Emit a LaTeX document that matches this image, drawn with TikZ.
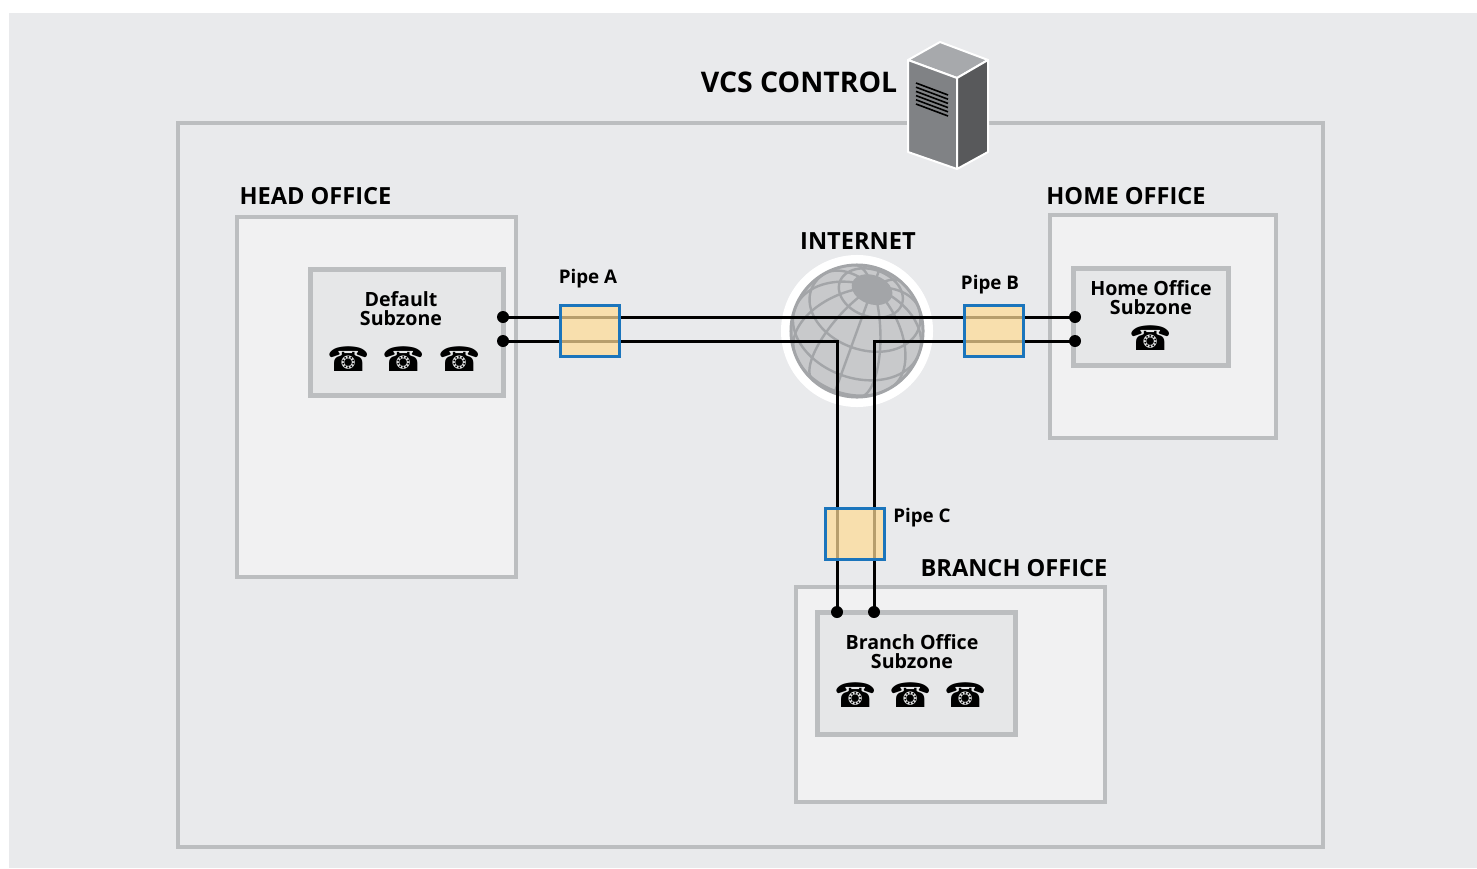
\documentclass[tikz,border=0pt]{standalone}
\usepackage{fontspec}
\setmainfont{Open Sans}
\newfontfamily\symfont{DejaVu Sans}
\usetikzlibrary{shapes}
\usetikzlibrary{positioning}

\definecolor{bggray}{RGB}{233,234,236}
\definecolor{framegray}{RGB}{188,190,192}
\definecolor{officefill}{RGB}{241,241,242}
\definecolor{zonefill}{RGB}{230,231,232}
\definecolor{pipefill}{RGB}{254,220,150}
\definecolor{pipeblue}{RGB}{27,117,188}
\definecolor{globefill}{RGB}{200,201,203}
\definecolor{globeline}{RGB}{163,165,168}
\definecolor{srvtop}{RGB}{167,169,172}
\definecolor{srvleft}{RGB}{128,130,133}
\definecolor{srvright}{RGB}{88,89,91}

\newcommand{\deskphone}{{\symfont\char"260E}}

\begin{document}
\begin{tikzpicture}[x=0.5pt,y=-0.5pt]
	\tikzstyle{box}=[rectangle,draw=framegray,line width=2pt,inner sep=0pt]
	\tikzstyle{office}=[box,fill=officefill]
	\tikzstyle{subzone}=[box,fill=zonefill,line width=2.5pt]
	\tikzstyle{zonetext}=[align=center,inner sep=0pt,font=\bfseries\fontsize{9.8}{9.5}\selectfont]
	\tikzstyle{title}=[anchor=base,inner sep=0pt,font=\bfseries\fontsize{11.8}{11.8}\selectfont]
	\tikzstyle{pipetext}=[anchor=base,inner sep=0pt,font=\bfseries\fontsize{9.4}{9.4}\selectfont]
	\tikzstyle{pipe}=[rectangle,draw=pipeblue,line width=1.5pt,fill=pipefill,fill opacity=0.72,minimum width=29.5pt,minimum height=25.5pt]
	\tikzstyle{phone}=[inner sep=0pt,font=\fontsize{17}{17}\selectfont]
	\tikzstyle{cable}=[line width=1.5pt,black]
	\tikzstyle{dot}=[circle,fill=black,inner sep=0pt,minimum size=6pt]
	\tikzstyle{gridline}=[globeline,line width=1.2pt]

	\useasboundingbox (0,0) rectangle (1477,868);
	\fill[bggray] (9,13) rectangle (1477,868);

	\node[box,minimum width=572.5pt,minimum height=362pt] (vcs) at (750.5,485) {};

	\node[office,minimum width=139.5pt,minimum height=180pt] (head) at (376.5,397) {};
	\node[office,minimum width=113pt,minimum height=111.5pt] (home) at (1163,326.5) {};
	\node[office,minimum width=154.5pt,minimum height=107.5pt] (branch) at (950.5,694.5) {};

	\node[subzone,minimum width=96.5pt,minimum height=63pt] (defzone) at (406.5,332) {};
	\node[subzone,minimum width=77.5pt,minimum height=48.5pt] (homezone) at (1150.5,316.5) {};
	\node[subzone,minimum width=99pt,minimum height=61pt] (brzone) at (916,673) {};

	\node[title,font=\bfseries\fontsize{14.2}{14.2}\selectfont] (vcstext) at (799,92) {VCS CONTROL};
	\node[title] (headtext) at (315.5,204) {HEAD OFFICE};
	\node[title] (hometext) at (1126,204) {HOME OFFICE};
	\node[title] (nettext) at (858,249) {INTERNET};
	\node[title] (brtext) at (1014,576) {BRANCH OFFICE};

	\node[zonetext] (deflabel) at (401,309) {Default\\Subzone};
	\node[zonetext] (homelabel) at (1151,297.5) {Home Office\\Subzone};
	\node[zonetext] (brlabel) at (912,651.5) {Branch Office\\Subzone};

	\foreach \x/\n in {349/1,404/2,460/3}
		\node[phone] (defphone\n) at (\x,359) {\deskphone};
	\node[phone] (homephone) at (1151,338) {\deskphone};
	\foreach \x/\n in {856/1,911/2,966/3}
		\node[phone] (brphone\n) at (\x,695) {\deskphone};

	% globe
	\begin{scope}[shift={(857,331)},x=0.5pt,y=0.5pt,rotate=-20]
		\fill[white] (0,0) circle (76);
		\fill[globefill] (0,0) circle (66);
		\begin{scope}
			\clip (0,0) circle (66);
			\fill[globeline] (0,44) ellipse (21 and 14.5);
			\foreach \p in {-30,0,30,60} {
				\pgfmathsetmacro\a{asin(min(1,tan(\p)))}
				\pgfmathsetmacro\ts{180-\a}
				\pgfmathsetmacro\te{360+\a}
				\draw[gridline,domain=\ts:\te,samples=60,variable=\t,smooth]
					plot ({66*cos(\p)*cos(\t)},{46.7*(sin(\p)+cos(\p)*sin(\t))});
			}
			\foreach \l in {0,30,...,330} {
				\pgfmathsetmacro\b{atan(sin(\l))}
				\draw[gridline,domain=\b:90,samples=40,variable=\t,smooth]
					plot ({66*cos(\t)*cos(\l)},{46.7*(cos(\t)*sin(\l)+sin(\t))});
			}
		\end{scope}
		\draw[globeline,line width=1.5pt] (0,0) circle (66);
	\end{scope}

	\coordinate (hq1) at (503,317);
	\coordinate (hq2) at (503,341);
	\coordinate (ho1) at (1075,317);
	\coordinate (ho2) at (1075,341);
	\coordinate (br1) at (837,612);
	\coordinate (br2) at (874,612);

	\draw[cable] (hq1) -- (ho1);
	\draw[cable] (hq2) -| (br1);
	\draw[cable] (ho2) -| (br2);

	\node[pipe] (pipeA) at (589.5,330.5) {};
	\node[pipe] (pipeB) at (993.5,330.5) {};
	\node[pipe] (pipeC) at (854.5,533.5) {};
	\node[pipetext] (pipeAtext) at (588,283) {Pipe A};
	\node[pipetext] (pipeBtext) at (990,289) {Pipe B};
	\node[pipetext] (pipeCtext) at (922,522) {Pipe C};

	\foreach \c in {hq1,hq2,ho1,ho2,br1,br2}
		\node[dot] at (\c) {};

	% server
	\begin{scope}[draw=white,line width=1pt,line join=round]
		\filldraw[fill=srvtop] (940,42) -- (908,60) -- (957,78) -- (988,60) -- cycle;
		\filldraw[fill=srvleft] (908,60) -- (957,78) -- (957,169) -- (908,152) -- cycle;
		\filldraw[fill=srvright] (957,78) -- (988,60) -- (988,152) -- (957,169) -- cycle;
	\end{scope}
	\foreach \i in {0,...,5}
		\draw[black,line width=0.8pt] (916,{83+4.2*\i}) -- (948,{95+4.2*\i});
\end{tikzpicture}
\end{document}
